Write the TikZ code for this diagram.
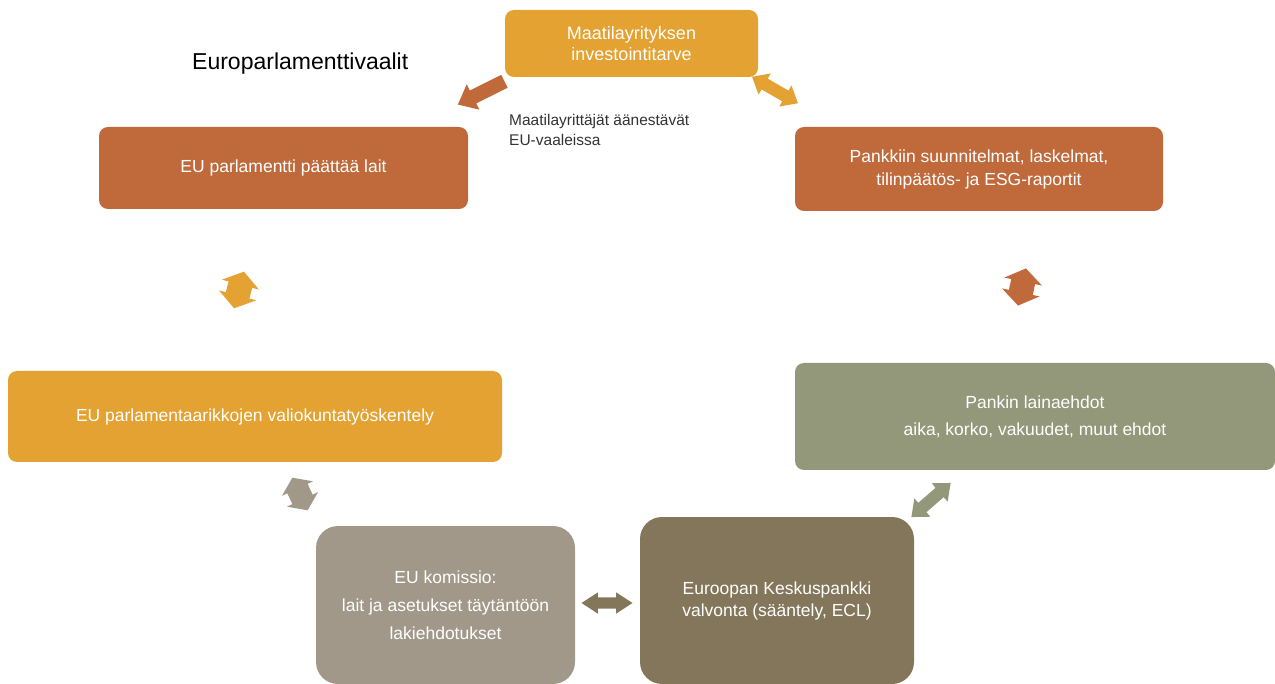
\documentclass[tikz,border=0pt]{standalone}
\usepackage{fontspec}
\setmainfont{Liberation Sans}
\usetikzlibrary{shapes.arrows}
\definecolor{cOrange}{HTML}{E3A232}
\definecolor{cRust}{HTML}{C06A3C}
\definecolor{cSage}{HTML}{93987A}
\definecolor{cTaupe}{HTML}{A1988A}
\definecolor{cBrown}{HTML}{84765A}
\definecolor{cText}{HTML}{333333}
\begin{document}
\begin{tikzpicture}[x=1pt,y=-1pt,
  box/.style={rounded corners=9pt, text=white, align=center, inner sep=0pt,
    font=\fontsize{17.5}{22}\selectfont},
  bigbox/.style={box, rounded corners=22pt},
  darr/.style={double arrow, inner xsep=0pt, draw=none},
  sarr/.style={single arrow, inner xsep=0pt, draw=none}]
\useasboundingbox (0,0) rectangle (1275,684);

% boxes
\node[box, fill=cOrange, minimum width=253pt, minimum height=67pt,
  font=\fontsize{18}{21}\selectfont] (top) at (631.5,43.5) {Maatilayrityksen\\investointitarve};
\node[box, fill=cRust, minimum width=369pt, minimum height=82pt] (parl) at (283.5,168) {EU parlamentti päättää lait};
\node[box, fill=cRust, minimum width=368pt, minimum height=84pt,
  font=\fontsize{17.5}{23}\selectfont] (bank) at (979,169) {Pankkiin suunnitelmat, laskelmat,\\tilinpäätös- ja ESG-raportit};
\node[box, fill=cOrange, minimum width=494pt, minimum height=91pt] (valio) at (255,416.5) {EU parlamentaarikkojen valiokuntatyöskentely};
\node[box, fill=cSage, minimum width=480pt, minimum height=107pt,
  font=\fontsize{17.5}{27}\selectfont] (laina) at (1035,416.5) {Pankin lainaehdot\\aika, korko, vakuudet, muut ehdot};
\node[bigbox, fill=cTaupe, minimum width=259pt, minimum height=158pt,
  font=\fontsize{17.5}{28}\selectfont] (kom) at (445.5,605) {EU komissio:\\lait ja asetukset täytäntöön\\lakiehdotukset};
\node[bigbox, fill=cBrown, minimum width=274pt, minimum height=167pt,
  font=\fontsize{17.5}{22}\selectfont] (ecb) at (777,600.5) {Euroopan Keskuspankki\\valvonta (sääntely, ECL)};

% labels
\node[anchor=west, inner sep=0pt, text=black, font=\fontsize{23}{26}\selectfont] (vaalit) at (192,64) {Europarlamenttivaalit};
\node[anchor=west, inner sep=0pt, align=left, text=cText, font=\fontsize{15.5}{20}\selectfont] (aanest) at (509,130) {Maatilayrittäjät äänestävät\\EU-vaaleissa};

% block arrows
\node[sarr, fill=cRust, rotate=206.6, minimum height=52pt, inner ysep=7pt,
  single arrow head extend=7pt, single arrow tip angle=80] (a1) at (485,91) {};
\node[darr, fill=cOrange, rotate=-30, minimum height=53pt, inner ysep=6pt,
  double arrow head extend=6pt, double arrow tip angle=80] (a2) at (775,90) {};
\node[darr, fill=cRust, rotate=78, minimum height=38pt, inner ysep=12pt,
  double arrow head extend=7pt, double arrow tip angle=110] (a3) at (1022,287) {};
\node[darr, fill=cSage, rotate=41, minimum height=52pt, inner ysep=6pt,
  double arrow head extend=6pt, double arrow tip angle=80] (a4) at (931,500) {};
\node[darr, fill=cBrown, rotate=0, minimum height=51pt, inner ysep=5.5pt,
  double arrow head extend=5pt, double arrow tip angle=66] (a5) at (607,603) {};
\node[darr, fill=cTaupe, rotate=115, minimum height=36pt, inner ysep=11pt,
  double arrow head extend=6pt, double arrow tip angle=110] (a6) at (300,494) {};
\node[darr, fill=cOrange, rotate=75, minimum height=38pt, inner ysep=12pt,
  double arrow head extend=7pt, double arrow tip angle=110] (a7) at (239,290) {};
\end{tikzpicture}
\end{document}
